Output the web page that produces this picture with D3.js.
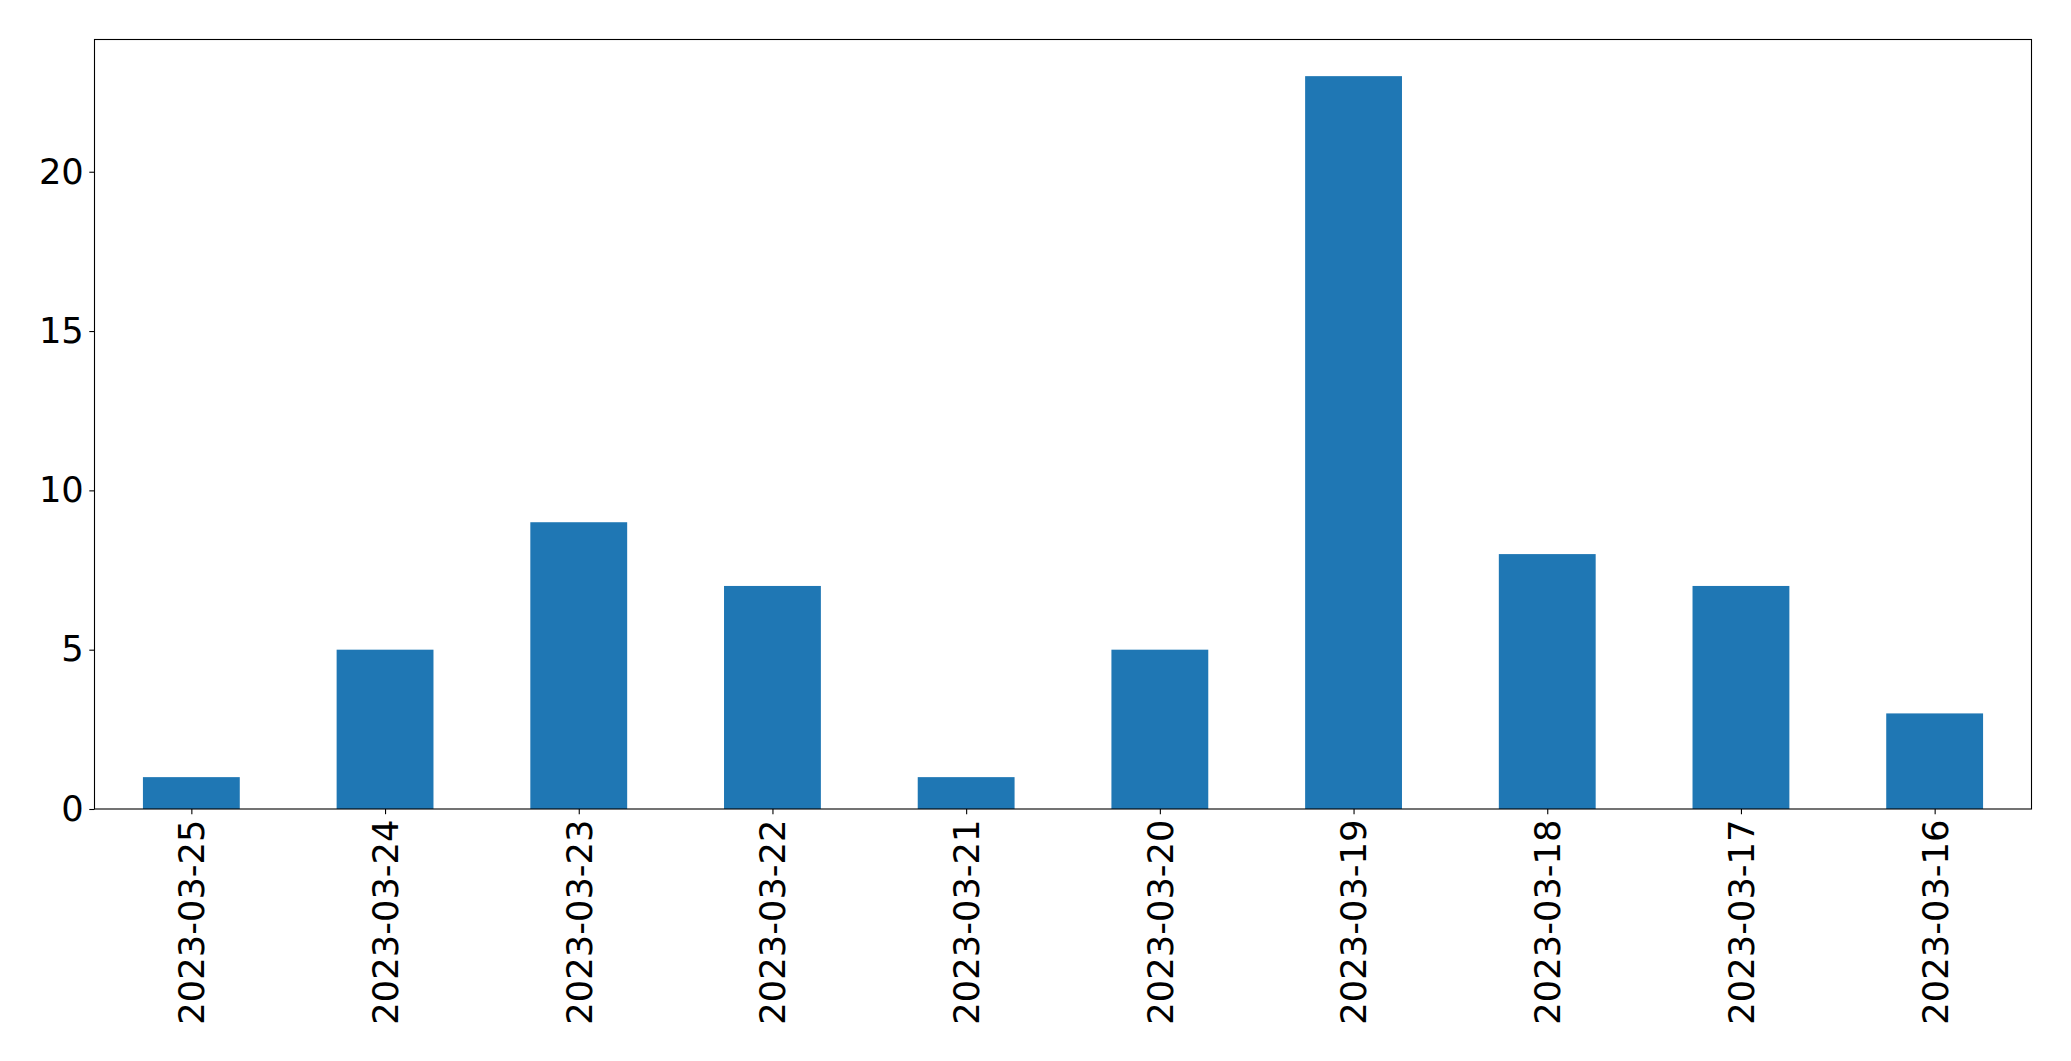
<!DOCTYPE html>
<html><head><meta charset="utf-8">
<script src="https://cdn.jsdelivr.net/npm/d3@7"></script>
<style>html,body{margin:0;padding:0;background:#fff;}</style>
</head><body>
<script>
const categories = ["2023-03-25","2023-03-24","2023-03-23","2023-03-22","2023-03-21","2023-03-20","2023-03-19","2023-03-18","2023-03-17","2023-03-16"];
const values = [1,5,9,7,1,5,23,8,7,3];
const yTicks = [0,5,10,15,20];

const W = 2071, H = 1061;
const L = 94.5, R = 2031.5, T = 39.5, B = 809;
const svg = d3.select("body").append("svg").attr("width", W).attr("height", H);

const x = d3.scaleLinear().domain([-0.5, categories.length - 0.5]).range([L, R]);
const y = d3.scaleLinear().domain([0, d3.max(values) * 1.05]).range([B, T]);
const bw = 0.5;

svg.selectAll("rect.bar").data(values).enter().append("rect")
  .attr("x", (d, i) => x(i - bw / 2))
  .attr("width", (d, i) => x(i + bw / 2) - x(i - bw / 2))
  .attr("y", d => y(d))
  .attr("height", d => y(0) - y(d))
  .attr("fill", "#1f77b4");

const font = "DejaVu Sans, sans-serif";
const fs = 35.3;

const xAxis = svg.append("g").attr("transform", `translate(0,${B})`)
  .call(d3.axisBottom(x).tickValues(d3.range(categories.length)).tickFormat(i => categories[i]).tickSize(5.2).tickPadding(5));
xAxis.select(".domain").remove();
xAxis.selectAll("line").attr("stroke", "#000").attr("stroke-width", 1.1);
xAxis.selectAll("text").attr("font-family", font).attr("font-size", fs).attr("fill", "#000")
  .attr("transform", "rotate(-90)").attr("text-anchor", "end").attr("dy", "0.35em")
  .attr("x", -10.5).attr("y", 0);

const yAxis = svg.append("g").attr("transform", `translate(${L},0)`)
  .call(d3.axisLeft(y).tickValues(yTicks).tickSize(5.2).tickPadding(5.5));
yAxis.select(".domain").remove();
yAxis.selectAll("line").attr("stroke", "#000").attr("stroke-width", 1.1);
yAxis.selectAll("text").attr("font-family", font).attr("font-size", fs).attr("fill", "#000");

svg.append("rect").attr("x", L).attr("y", T).attr("width", R - L).attr("height", B - T)
  .attr("fill", "none").attr("stroke", "#000").attr("stroke-width", 1.1);
</script>
</body></html>
